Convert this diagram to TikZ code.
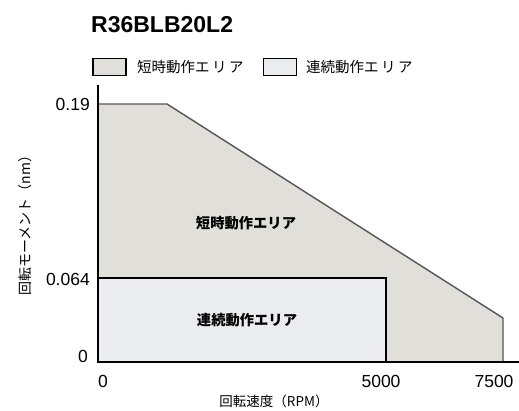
\documentclass[tikz,border=0pt]{standalone}
\usepackage{fontspec}
\setmainfont{Liberation Sans}
\newfontfamily\jpfont{Noto Sans CJK JP}
\usepackage{tikz}
\usetikzlibrary{positioning}

\definecolor{shortarea}{RGB}{224,223,217}
\definecolor{contarea}{RGB}{234,236,239}
\definecolor{edgegray}{RGB}{85,85,85}

\begin{document}
\begin{tikzpicture}[x=1pt, y=1pt,
  num/.style={font=\fontsize{17.5}{17.5}\selectfont, inner sep=0pt},
  jplabel/.style={font=\jpfont\fontsize{14.5}{14.5}\selectfont, inner sep=0pt},
  jpbold/.style={font=\jpfont\bfseries\fontsize{14.3}{14.3}\selectfont, inner sep=0pt},
  legendbox/.style={draw=black, line width=1.3pt, minimum width=33pt, minimum height=17pt, inner sep=0pt}]
  \useasboundingbox (0,0) rectangle (519,411);

  % Title (top)
  \node[font=\bfseries\fontsize{23}{23}\selectfont, anchor=west, inner sep=0pt] (title) at (91,386) {R36BLB20L2};

  % Legend
  \node[legendbox, fill=shortarea] (keyshort) at (109.5,344) {};
  \node[jplabel, anchor=west] (keyshorttxt) at (137,344) {短時動作エ\,リ\,ア};
  \node[legendbox, fill=contarea] (keycont) at (280,344) {};
  \node[jplabel, anchor=west] (keyconttxt) at (306,344) {連続動作エ\,リ\,ア};

  % Areas
  \coordinate (O) at (98,49);
  \coordinate (ytop) at (98,326);
  \coordinate (xend) at (519,49);
  \coordinate (peak) at (98,307);
  \coordinate (knee) at (167,307);
  \coordinate (drop) at (503,93);
  \coordinate (foot) at (503,49);
  \coordinate (contcorner) at (386,133);
  \fill[shortarea] (O) -- (peak) -- (knee) -- (drop) -- (foot) -- cycle;
  \draw[edgegray, line width=1.4pt] (peak) -- (knee) -- (drop) -- (foot);
  \filldraw[fill=contarea, draw=black, line width=2pt] (O) rectangle (contcorner);
  \node[jpbold] (shorttxt) at (246,188) {短時動作エリア};
  \node[jpbold] (conttxt) at (247,91) {連続動作エリア};

  % Axes
  \draw[line width=2.3pt] (ytop) -- (O) -- (xend);

  % Ticks
  \node[num, anchor=east] (y019) at (90,307) {0.19};
  \node[num, anchor=east] (y0064) at (90,132) {0.064};
  \node[num, anchor=east] (y0) at (88,55) {0};
  \node[num] (x0) at (103,30) {0};
  \node[num] (x5000) at (381,30) {5000};
  \node[num] (x7500) at (494,30) {7500};

  % Axis titles
  \node[jplabel, rotate=90, font=\jpfont\fontsize{14}{14}\selectfont] (ytitle) at (25,189) {回転モーメント（nm）};
  \node[jplabel, font=\jpfont\fontsize{13.5}{13.5}\selectfont] (xtitle) at (274,10) {回転速度（RPM）};

\end{tikzpicture}
\end{document}
